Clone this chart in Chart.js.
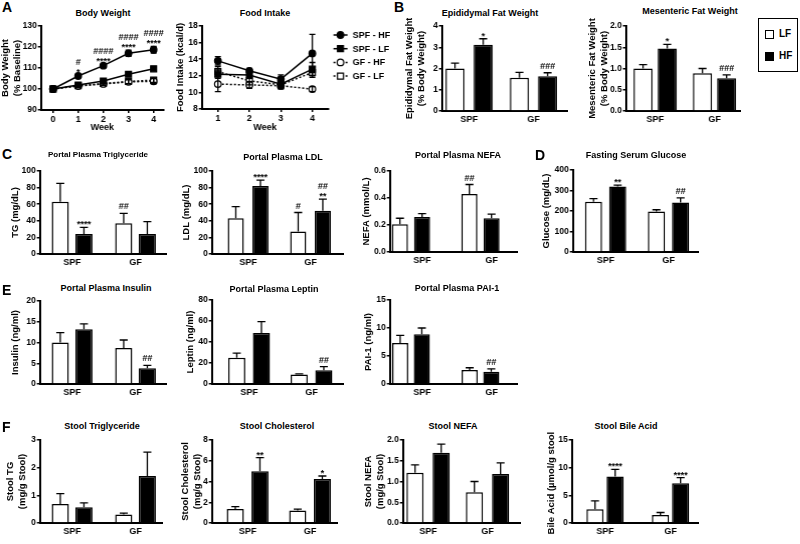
<!DOCTYPE html>
<html>
<head>
<meta charset="utf-8">
<title>Metabolic panels</title>
<script src="https://cdn.jsdelivr.net/npm/chart.js@4.4.1/dist/chart.umd.min.js"></script>
<style>
  html, body { margin: 0; padding: 0; background: #fff; }
  #fig { position: relative; width: 800px; height: 544px; overflow: hidden;
         font-family: 'Liberation Sans', Arial, sans-serif; font-weight: bold; color: #000; }
  .cw { position: absolute; }
  .tx { position: absolute; white-space: nowrap; }
  .sq { position: absolute; width: 9px; height: 9px; border: 1.5px solid #000; box-sizing: border-box; }
</style>
</head>
<body>
<div id="fig"></div>
<script>
// ---------- data ----------
const groups = ['SPF', 'GF'];

const weeksBW = [0, 1, 2, 3, 4];
const bwSpfHf = [100, 106.2, 111.1, 117.0, 118.7];
const bwSpfHfErr = [0.2, 0.7, 0.6, 1.5, 1.6];
const bwSpfLf = [100, 101.9, 103.8, 107.0, 109.6];
const bwSpfLfErr = [0.2, 0.5, 0.5, 0.6, 0.6];
const bwGfHf = [100, 101.4, 102.4, 103.4, 103.7];
const bwGfHfErr = [0.2, 0.6, 0.8, 1.0, 1.2];
const bwGfLf = [100, 101.6, 102.6, 103.6, 104.2];
const bwGfLfErr = [0.2, 0.6, 0.7, 1.0, 1.0];
const bwMarks = ['', ['#', '*'], ['####', '****'], ['####', '****'], ['####', '****']];

const weeksFI = [1, 2, 3, 4];
const fiSpfHf = [13.8, 12.6, 11.6, 14.7];
const fiSpfHfErr = [0.5, 0.3, 0.5, 2.3];
const fiSpfLf = [12.2, 12.1, 11.0, 12.8];
const fiSpfLfErr = [0.5, 0.4, 0.4, 0.8];
const fiGfHf = [11.0, 10.9, 10.8, 10.4];
const fiGfHfErr = [0.9, 0.4, 0.3, 0.3];
const fiGfLf = [12.5, 11.4, 10.9, 12.4];
const fiGfLfErr = [0.6, 0.5, 0.5, 0.6];

const epiLF = [2.0, 1.56], epiLFErr = [0.25, 0.26];
const epiHF = [3.12, 1.64], epiHFErr = [0.28, 0.16];
const epiHFMarks = ['*', '###'];

const mesLF = [1.0, 0.89], mesLFErr = [0.09, 0.11];
const mesHF = [1.47, 0.77], mesHFErr = [0.1, 0.08];
const mesHFMarks = ['*', '###'];

const tgLF = [63, 37], tgLFErr = [22, 12];
const tgHF = [24, 24], tgHFErr = [8, 15];
const tgLFMarks = ['', '##'], tgHFMarks = ['****', ''];

const ldlLF = [43, 27], ldlLFErr = [14, 23];
const ldlHF = [82, 52], ldlHFErr = [7, 14];
const ldlLFMarks = ['', '#'], ldlHFMarks = ['****', ['##', '**']];

const nefaLF = [0.205, 0.43], nefaLFErr = [0.045, 0.07];
const nefaHF = [0.26, 0.25], nefaHFErr = [0.025, 0.03];
const nefaLFMarks = ['', '##'];

const gluLF = [245, 197], gluLFErr = [15, 9];
const gluHF = [320, 242], gluHFErr = [6, 22];
const gluHFMarks = ['**', '##'];

const insLF = [10.0, 8.7], insLFErr = [2.4, 1.9];
const insHF = [13.2, 3.8], insHFErr = [1.3, 0.7];
const insHFMarks = ['', '##'];

const lepLF = [25, 9], lepLFErr = [4.5, 0.7];
const lepHF = [48.5, 13], lepHFErr = [11, 3.5];
const lepHFMarks = ['', '##'];

const paiLF = [7.3, 2.5], paiLFErr = [1.4, 0.4];
const paiHF = [8.9, 2.2], paiHFErr = [1.1, 0.5];
const paiHFMarks = ['', '##'];

const stgLF = [0.69, 0.31], stgLFErr = [0.37, 0.05];
const stgHF = [0.57, 1.7], stgHFErr = [0.16, 0.86];

const schLF = [1.35, 1.2], schLFErr = [0.22, 0.13];
const schHF = [5.0, 4.23], schHFErr = [1.3, 0.3];
const schHFMarks = ['**', '*'];

const snefaLF = [1.21, 0.74], snefaLFErr = [0.19, 0.26];
const snefaHF = [1.69, 1.18], snefaHFErr = [0.21, 0.27];

const bileLF = [2.5, 1.45], bileLFErr = [1.5, 0.45];
const bileHF = [8.4, 7.2], bileHFErr = [1.3, 1.0];
const bileHFMarks = ['****', '****'];

// ---------- setup ----------
const FAM = "'Liberation Sans', Arial, sans-serif";
const F9 = {family: FAM, size: 9, weight: 'bold'};
const FTICK = {family: FAM, size: 8.5, weight: 'bold'};
const FTITLE = {family: FAM, size: 9.5, weight: 'bold'};
Chart.defaults.font.family = FAM;
Chart.defaults.font.weight = 'bold';
Chart.defaults.color = '#000';
Chart.defaults.animation = false;
Chart.defaults.plugins.legend.display = false;
Chart.defaults.plugins.tooltip.enabled = false;

const fig = document.getElementById('fig');

// error bars (+ significance marks) drawn from the y scale
const errorBars = {
  id: 'errorBars',
  afterDatasetsDraw(chart) {
    const ctx = chart.ctx, ys = chart.scales.y;
    ctx.save();
    ctx.strokeStyle = '#000';
    ctx.fillStyle = '#000';
    ctx.lineWidth = 1.3;
    chart.data.datasets.forEach((ds, di) => {
      if (!ds.err) return;
      chart.getDatasetMeta(di).data.forEach((el, i) => {
        const d = ds.data[i];
        const v = typeof d === 'object' ? d.y : d;
        const e = ds.err[i];
        const x = el.x;
        const top = ys.getPixelForValue(v + e);
        const bot = ds.both ? ys.getPixelForValue(v - e) : el.y;
        const cap = ds.both ? 3 : 4;
        ctx.beginPath();
        ctx.moveTo(x, bot); ctx.lineTo(x, top);
        ctx.moveTo(x - cap, top); ctx.lineTo(x + cap, top);
        if (ds.both) { ctx.moveTo(x - cap, bot); ctx.lineTo(x + cap, bot); }
        ctx.stroke();
        const m = ds.marks && ds.marks[i];
        if (m) {
          ctx.font = 'bold 9px ' + FAM;
          ctx.textAlign = 'center';
          ctx.textBaseline = 'alphabetic';
          let y = top - 1;
          [].concat(m).reverse().forEach(s => {
            const base = s[0] === '*' ? y + 1 : y - 3;
            ctx.fillText(s, x, base);
            y = base - 7;
          });
        }
      });
    });
    ctx.restore();
  }
};
Chart.register(errorBars);

function marker(ctx, style, x, y, fill) {
  ctx.beginPath();
  if (style === 'rect') ctx.rect(x - 3, y - 3, 6, 6);
  else ctx.arc(x, y, 3.3, 0, Math.PI * 2);
  ctx.fillStyle = fill; ctx.fill();
  ctx.lineWidth = 1.2; ctx.strokeStyle = '#000'; ctx.stroke();
}

const fiLegend = {
  id: 'fiLegend',
  afterDraw(chart) {
    const {ctx, chartArea: a} = chart;
    ctx.save();
    chart.data.datasets.forEach((ds, i) => {
      const y = a.top + 9 + i * 13.7, x = a.right + 12;
      ctx.strokeStyle = '#000'; ctx.lineWidth = 1.5;
      ctx.setLineDash(ds.borderDash);
      ctx.beginPath(); ctx.moveTo(x - 7, y); ctx.lineTo(x + 7, y); ctx.stroke();
      ctx.setLineDash([]);
      marker(ctx, ds.pointStyle, x, y, ds.pointBackgroundColor);
      ctx.fillStyle = '#000';
      ctx.font = 'bold 9px ' + FAM;
      ctx.textAlign = 'left'; ctx.textBaseline = 'middle';
      ctx.fillText(ds.label, x + 12, y + 0.5);
    });
    ctx.restore();
  }
};

// chart box so that the plot area lands on (ax..r, t..b); tx = centre of first y-title line
function place(ax, r, t, b, tx, xH, padR) {
  const left = tx - 5.7, top = t - 8;
  const box = document.createElement('div');
  box.className = 'cw';
  box.style.left = left + 'px';
  box.style.top = top + 'px';
  box.style.width = (r + padR - left) + 'px';
  box.style.height = (b + xH - top) + 'px';
  const cv = document.createElement('canvas');
  box.appendChild(cv);
  fig.appendChild(box);
  return {cv, yW: ax - left};
}

function yAxis(min, max, step, title, yW, dec) {
  return {
    min, max,
    afterBuildTicks: s => {
      const t = [];
      for (let v = min; v <= max + 1e-9; v += step) t.push({value: +v.toFixed(4)});
      s.ticks = t;
    },
    ticks: {padding: 1, font: FTICK, callback: v => dec ? v.toFixed(dec) : String(v)},
    grid: {drawOnChartArea: false, drawTicks: true, tickLength: 3, color: '#000', lineWidth: 1.5},
    border: {display: true, color: '#000', width: 2},
    title: {display: true, text: title, padding: 0, font: FTITLE},
    afterFit: s => { s.width = yW; }
  };
}

function xLin(ax, r, p0, p1, v0, v1, ticks, xH, extra) {
  const u = (p1 - p0) / (v1 - v0);
  return Object.assign({
    type: 'linear', offset: false,
    min: v0 - (p0 - ax) / u, max: v1 + (r - p1) / u,
    afterBuildTicks: s => { s.ticks = ticks.map(v => ({value: v})); },
    border: {display: true, color: '#000', width: 2},
    afterFit: s => { s.height = xH; }
  }, extra);
}

function lineSet(label, xs, ys, err, style, open, dashed, marks) {
  return {
    label, err, marks, both: true,
    data: xs.map((x, i) => ({x, y: ys[i]})),
    borderColor: '#000', borderWidth: 1.5, borderDash: dashed ? [2, 2] : [],
    pointStyle: style, pointRadius: style === 'rect' ? 4.2 : 3.3,
    pointBorderWidth: 1.2, pointBorderColor: '#000',
    pointBackgroundColor: open ? '#fff' : '#000', fill: false, tension: 0
  };
}

function lineChart(p) {
  const {cv, yW} = place(p.ax, p.r, p.t, p.b, p.tx, p.xH, p.padR);
  new Chart(cv, {
    type: 'line',
    data: {datasets: p.sets},
    plugins: p.plugins || [],
    options: {
      responsive: true, maintainAspectRatio: false, devicePixelRatio: 1,
      layout: {padding: {top: 8, right: p.padR, left: 0, bottom: 0}},
      scales: {
        x: xLin(p.ax, p.r, p.p0, p.p1, p.v0, p.v1, p.xs, p.xH, {
          ticks: {padding: 1, font: F9, callback: v => String(v)},
          grid: {drawOnChartArea: false, drawTicks: true, tickLength: 3, color: '#000', lineWidth: 1.5},
          title: {display: true, text: 'Week', padding: 0, font: F9}
        }),
        y: yAxis(p.y[0], p.y[1], p.y[2], p.title, yW, 0)
      }
    }
  });
}

function barChart(p) {
  const {cv, yW} = place(p.ax, p.r, p.t, p.b, p.tx, 20, 6);
  const u = p.gf - p.spf;
  const sets = [
    {data: p.lf.map((v, i) => ({x: i, y: v})), err: p.lfE, marks: p.lfM, backgroundColor: '#fff'},
    {data: p.hf.map((v, i) => ({x: i, y: v})), err: p.hfE, marks: p.hfM, backgroundColor: '#000'}
  ].map(d => Object.assign(d, {
    borderColor: '#000', borderWidth: 1.5,
    categoryPercentage: 2 * p.s / u, barPercentage: p.w / p.s
  }));
  new Chart(cv, {
    type: 'bar',
    data: {datasets: sets},
    options: {
      responsive: true, maintainAspectRatio: false, devicePixelRatio: 1,
      layout: {padding: {top: 8, right: 6, left: 0, bottom: 0}},
      scales: {
        x: xLin(p.ax, p.r, p.spf, p.gf, 0, 1, [0, 1], 20, {
          ticks: {padding: 3, font: F9, labelOffset: p.lo || 0, callback: v => groups[v]},
          grid: {display: false, drawTicks: false}
        }),
        y: yAxis(p.y[0], p.y[1], p.y[2], p.title, yW, p.y[3])
      }
    }
  });
}

// ---------- panel A ----------
lineChart({
  ax: 41, r: 163, t: 26, b: 110, tx: 6, xH: 23.4, padR: 6,
  p0: 53, p1: 153, v0: 0, v1: 4, xs: weeksBW,
  y: [90, 130, 10], title: ['Body Weight', '(% Baseline)'],
  sets: [
    lineSet('SPF - HF', weeksBW, bwSpfHf, bwSpfHfErr, 'circle', false, false, bwMarks),
    lineSet('SPF - LF', weeksBW, bwSpfLf, bwSpfLfErr, 'rect', false, false),
    lineSet('GF - HF', weeksBW, bwGfHf, bwGfHfErr, 'circle', true, true),
    lineSet('GF - LF', weeksBW, bwGfLf, bwGfLfErr, 'rect', true, true)
  ]
});

lineChart({
  ax: 202, r: 328, t: 26, b: 109, tx: 181, xH: 24.4, padR: 72,
  p0: 218, p1: 312, v0: 1, v1: 4, xs: weeksFI,
  y: [8, 18, 2], title: 'Food Intake (kcal/d)',
  plugins: [fiLegend],
  sets: [
    lineSet('SPF - HF', weeksFI, fiSpfHf, fiSpfHfErr, 'circle', false, false),
    lineSet('SPF - LF', weeksFI, fiSpfLf, fiSpfLfErr, 'rect', false, false),
    lineSet('GF - HF', weeksFI, fiGfHf, fiGfHfErr, 'circle', true, true),
    lineSet('GF - LF', weeksFI, fiGfLf, fiGfLfErr, 'rect', true, true)
  ]
});

// ---------- bar panels ----------
const barPanels = [
  // B
  {ax: 442, r: 567, t: 26, b: 111, tx: 410, spf: 469, gf: 533, s: 28, w: 19, y: [0, 4, 1, 0],
   title: ['Epididymal Fat Weight', '(% Body Weight)'], lf: epiLF, lfE: epiLFErr, hf: epiHF, hfE: epiHFErr, hfM: epiHFMarks},
  {ax: 626, r: 740, t: 26, b: 111, tx: 593, spf: 655, gf: 714, s: 24, w: 19, y: [0, 2, 0.5, 1],
   title: ['Mesenteric Fat Weight', '(% Body Weight)'], lf: mesLF, lfE: mesLFErr, hf: mesHF, hfE: mesHFErr, hfM: mesHFMarks},
  // C, D
  {ax: 40, r: 166, t: 171, b: 254, tx: 16, spf: 72, gf: 135, s: 23.5, w: 17, y: [0, 100, 20, 0],
   title: 'TG (mg/dL)', lf: tgLF, lfE: tgLFErr, lfM: tgLFMarks, hf: tgHF, hfE: tgHFErr, hfM: tgHFMarks},
  {ax: 212, r: 343, t: 171, b: 254, tx: 187, spf: 248, gf: 310, s: 24.5, w: 16, y: [0, 100, 20, 0],
   title: 'LDL (mg/dL)', lf: ldlLF, lfE: ldlLFErr, lfM: ldlLFMarks, hf: ldlHF, hfE: ldlHFErr, hfM: ldlHFMarks},
  {ax: 390, r: 517, t: 171, b: 252, tx: 367, spf: 411, gf: 480, s: 22, w: 16, lo: 11, y: [0, 0.6, 0.2, 1],
   title: 'NEFA (mmol/L)', lf: nefaLF, lfE: nefaLFErr, lfM: nefaLFMarks, hf: nefaHF, hfE: nefaHFErr},
  {ax: 573, r: 698, t: 170, b: 252, tx: 547, spf: 605.5, gf: 668, s: 24, w: 17, y: [0, 400, 100, 0],
   title: 'Glucose (mg/dL)', lf: gluLF, lfE: gluLFErr, hf: gluHF, hfE: gluHFErr, hfM: gluHFMarks},
  // E
  {ax: 40, r: 166, t: 301, b: 384, tx: 16, spf: 72, gf: 135, s: 23.5, w: 17, y: [0, 20, 5, 0],
   title: 'Insulin (ng/ml)', lf: insLF, lfE: insLFErr, hf: insHF, hfE: insHFErr, hfM: insHFMarks},
  {ax: 212, r: 343, t: 300, b: 384, tx: 191, spf: 249, gf: 311, s: 24.5, w: 17, y: [0, 80, 20, 0],
   title: 'Leptin (ng/ml)', lf: lepLF, lfE: lepLFErr, hf: lepHF, hfE: lepHFErr, hfM: lepHFMarks},
  {ax: 390, r: 517, t: 300, b: 384, tx: 369, spf: 411, gf: 480, s: 21.5, w: 16, lo: 11, y: [0, 15, 5, 0],
   title: 'PAI-1 (ng/ml)', lf: paiLF, lfE: paiLFErr, hf: paiHF, hfE: paiHFErr, hfM: paiHFMarks},
  // F
  {ax: 40, r: 162, t: 440, b: 523, tx: 11, spf: 72, gf: 135, s: 23.5, w: 17, y: [0, 3, 1, 0],
   title: ['Stool TG', '(mg/g Stool)'], lf: stgLF, lfE: stgLFErr, hf: stgHF, hfE: stgHFErr},
  {ax: 212, r: 337, t: 440, b: 523, tx: 186, spf: 247.5, gf: 309.5, s: 24.5, w: 17, y: [0, 8, 2, 0],
   title: ['Stool Cholesterol', '(mg/g Stool)'], lf: schLF, lfE: schLFErr, hf: schHF, hfE: schHFErr, hfM: schHFMarks},
  {ax: 403, r: 520, t: 440, b: 523, tx: 369, spf: 428, gf: 487, s: 26, w: 17, y: [0, 2, 0.5, 1],
   title: ['Stool NEFA', '(mg/g Stool)'], lf: snefaLF, lfE: snefaLFErr, hf: snefaHF, hfE: snefaHFErr},
  {ax: 572, r: 698, t: 440, b: 523, tx: 552, spf: 605, gf: 670, s: 20, w: 17, y: [0, 15, 5, 0],
   title: 'Bile Acid (\u00b5mol/g stool)', lf: bileLF, lfE: bileLFErr, hf: bileHF, hfE: bileHFErr, hfM: bileHFMarks}
];
barPanels.forEach(barChart);

// ---------- titles, letters, legend ----------
function txt(s, x, cy, size, center) {
  const d = document.createElement('div');
  d.className = 'tx';
  d.textContent = s;
  d.style.fontSize = size + 'px';
  d.style.lineHeight = size + 'px';
  d.style.left = x + 'px';
  d.style.top = (cy - size * 0.49) + 'px';
  if (center) d.style.transform = 'translateX(-50%)';
  fig.appendChild(d);
  return d;
}

[['A', 2, 7], ['B', 394, 7], ['C', 2, 154], ['D', 535, 155], ['E', 2, 290], ['F', 2, 427]]
  .forEach(([s, x, y]) => txt(s, x, y, 14, false));

[['Body Weight', 103, 13, 9], ['Food Intake', 265, 13, 9],
 ['Epididymal Fat Weight', 490, 13, 9], ['Mesenteric Fat Weight', 690, 11, 9],
 ['Portal Plasma Triglyceride', 98, 155, 8], ['Portal Plasma LDL', 283, 157, 9],
 ['Portal Plasma NEFA', 458, 155, 9], ['Fasting Serum Glucose', 636, 155, 9],
 ['Portal Plasma Insulin', 106, 288, 9], ['Portal Plasma Leptin', 274, 289, 9],
 ['Portal Plasma PAI-1', 457, 288, 9],
 ['Stool Triglyceride', 102, 426, 9], ['Stool Cholesterol', 277, 426, 9],
 ['Stool NEFA', 453, 426, 9], ['Stool Bile Acid', 626, 426, 9]]
  .forEach(([s, x, y, f]) => txt(s, x, y, f, true));

const leg = document.createElement('div');
leg.style.cssText = 'position:absolute;left:758px;top:18px;width:40px;height:54px;border:1.5px solid #000;box-sizing:border-box;';
fig.appendChild(leg);
[['LF', '#fff', 34], ['HF', '#000', 56]].forEach(([s, c, cy]) => {
  const q = document.createElement('div');
  q.className = 'sq';
  q.style.left = '765px';
  q.style.top = (cy - 4.5) + 'px';
  q.style.background = c;
  fig.appendChild(q);
  txt(s, 779, cy, 10, false);
});
</script>
</body>
</html>
